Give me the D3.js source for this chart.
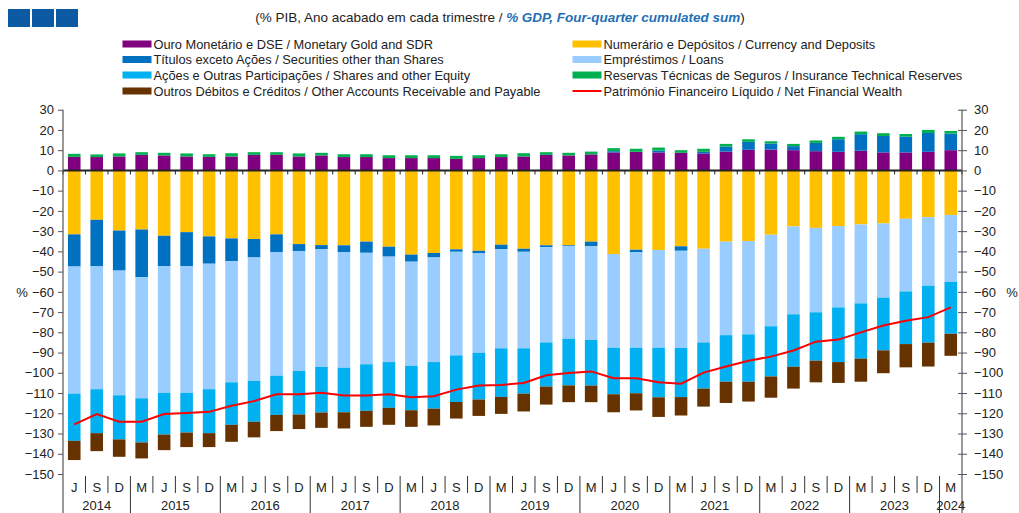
<!DOCTYPE html>
<html>
<head>
<meta charset="utf-8">
<script src="https://cdn.jsdelivr.net/npm/d3@7"></script>
<style>
body { margin: 0; background: #fff; }
text { font-family: "Liberation Sans", Arial, sans-serif; }
</style>
</head>
<body>
<div id="canvas"></div>
<script>
// quarters, June 2014 .. March 2024
let quarters = ["J","S","D",
  "M","J","S","D", "M","J","S","D", "M","J","S","D", "M","J","S","D",
  "M","J","S","D", "M","J","S","D", "M","J","S","D", "M","J","S","D",
  "M","J","S","D", "M"];
let years = ["2014","2015","2016","2017","2018","2019","2020","2021","2022","2023","2024"];
let yearCounts = [3,4,4,4,4,4,4,4,4,4,1];

let gold = [6.7,6.6,6.9,7.7,7.4,6.9,6.7,6.9,7.7,7.7,6.9,7.4,6.6,6.6,6.1,6.1,6.1,5.7,6.1,6.6,
  6.9,7.7,7.4,7.9,8.9,9.2,8.9,8.7,8.4,9.3,10.2,10.3,10.0,9.5,9.2,9.7,8.9,8.9,9.2,10.0];
let currency = [-31.6,-24.4,-29.7,-29.2,-32.3,-30.5,-32.6,-33.6,-33.9,-31.6,-36.4,-36.9,-37.0,-35.2,-37.7,-41.6,-40.8,-39.0,-39.7,-36.7,
  -38.7,-37.0,-37.0,-35.2,-41.3,-39.2,-39.3,-37.5,-38.7,-35.2,-34.9,-31.8,-27.7,-28.4,-27.5,-26.7,-26.2,-23.9,-23.1,-22.0];
let securities = [-15.9,-23.0,-19.8,-23.6,-15.1,-16.9,-13.5,-11.2,-9.1,-8.7,-3.4,-2.0,-3.3,-5.5,-4.9,-3.5,-2.2,-1.2,-1.3,-2.2,
  -1.5,-0.9,-0.4,-2.3,0.6,-1.3,0.9,-2.2,0.8,2.5,3.9,3.0,2.0,4.1,6.2,8.2,8.1,7.8,9.3,8.2];
let loans = [-62.8,-60.7,-61.6,-59.8,-62.5,-62.5,-62.0,-59.9,-61.0,-61.1,-59.3,-58.2,-57.2,-55.1,-52.1,-51.5,-51.7,-51.2,-49.1,-49.0,
  -47.7,-47.1,-45.8,-46.3,-46.3,-47.1,-48.3,-48.0,-46.3,-46.2,-46.1,-45.2,-43.4,-41.7,-40.2,-39.0,-36.7,-35.9,-33.9,-33.1];
let shares = [-23.3,-21.7,-21.8,-21.8,-20.6,-19.6,-21.7,-21.0,-20.2,-19.4,-21.5,-22.5,-22.0,-23.0,-22.6,-21.9,-23.0,-23.0,-23.1,-24.0,
  -22.4,-21.8,-23.0,-22.5,-23.0,-22.5,-24.5,-24.3,-22.8,-23.0,-23.4,-24.8,-25.9,-23.9,-27.0,-27.3,-26.0,-26.0,-28.1,-25.6];
let insurance = [1.5,1.3,1.5,1.3,1.3,1.5,1.3,1.6,1.3,1.3,1.5,1.3,1.4,1.4,1.4,1.4,1.4,1.5,1.4,1.4,
  1.6,1.3,1.3,1.4,1.5,1.5,1.5,1.3,1.5,1.3,1.3,1.1,1.1,1.2,1.2,1.3,1.4,1.3,1.5,1.3];
let other = [-9.5,-8.9,-8.6,-7.9,-7.7,-7.2,-6.9,-8.4,-7.7,-8.0,-7.2,-7.6,-8.0,-7.9,-8.4,-8.2,-8.3,-8.2,-8.1,-8.4,
  -8.8,-8.9,-8.3,-8.2,-8.9,-8.5,-9.7,-9.1,-8.9,-10.5,-9.8,-10.5,-10.8,-10.7,-10.3,-11.4,-11.3,-11.5,-11.8,-10.9];
let netWealth = [-125.5,-120.4,-124.2,-124.2,-120.4,-119.8,-119.3,-116.3,-114.0,-110.6,-110.6,-109.9,-111.2,-111.2,-110.6,-112.1,-111.6,-108.3,-106.3,-106.0,
  -105.0,-101.2,-100.1,-99.3,-102.7,-102.7,-104.7,-105.4,-99.9,-96.9,-94.0,-92.0,-89.0,-84.6,-83.6,-80.0,-76.6,-74.3,-72.5,-67.7];

let yTicks = d3.range(-150, 31, 10);

let series = [
  {key: "gold", values: gold, color: "#800080", label: "Ouro Monetário e DSE / Monetary Gold and SDR"},
  {key: "currency", values: currency, color: "#FFC000", label: "Numerário e Depósitos / Currency and Deposits"},
  {key: "securities", values: securities, color: "#0070C0", label: "Títulos exceto Ações / Securities other than Shares"},
  {key: "loans", values: loans, color: "#99CCFF", label: "Empréstimos / Loans"},
  {key: "shares", values: shares, color: "#00B0F0", label: "Ações e Outras Participações / Shares and other Equity"},
  {key: "insurance", values: insurance, color: "#00B050", label: "Reservas Técnicas de Seguros / Insurance Technical Reserves"},
  {key: "other", values: other, color: "#663300", label: "Outros Débitos e Créditos / Other Accounts Receivable and Payable"}
];

let rows = quarters.map((q, i) => {
  let r = {i: i};
  series.forEach(s => r[s.key] = s.values[i]);
  return r;
});

let width = 1019;
let height = 513;
let plotLeft = 63, plotRight = 962, plotTop = 109.7, plotBottom = 474;

var svg = d3.select("#canvas").append("svg")
    .attr("width", width)
    .attr("height", height);

var xScale = d3.scaleBand()
    .domain(d3.range(quarters.length))
    .range([plotLeft, plotRight])
    .paddingInner(0.44)
    .paddingOuter(0.22);

var yScale = d3.scaleLinear()
    .domain([-150, 30])
    .range([plotBottom, plotTop]);

var stack = d3.stack()
    .keys(series.map(s => s.key))
    .offset(d3.stackOffsetDiverging);

var layers = stack(rows);

svg.append("g").selectAll("g")
    .data(layers)
    .join("g")
    .attr("fill", (d, k) => series[k].color)
    .selectAll("rect")
    .data(d => d)
    .join("rect")
    .attr("x", d => xScale(d.data.i))
    .attr("y", d => yScale(Math.max(d[0], d[1])))
    .attr("width", xScale.bandwidth())
    .attr("height", d => Math.abs(yScale(d[0]) - yScale(d[1])));

// net financial wealth line
var line = d3.line()
    .x((d, i) => xScale(i) + xScale.bandwidth() / 2)
    .y(d => yScale(d));

svg.append("path")
    .datum(netWealth)
    .attr("d", line)
    .attr("fill", "none")
    .attr("stroke", "#FF0000")
    .attr("stroke-width", 2);

// zero line with small ticks between bars
svg.append("line")
    .attr("x1", plotLeft).attr("x2", plotRight)
    .attr("y1", yScale(0)).attr("y2", yScale(0))
    .attr("stroke", "#222").attr("stroke-width", 2);

let step = xScale.step();
let bounds = d3.range(quarters.length + 1).map(i => plotLeft + i * step);
svg.append("g").selectAll("line")
    .data(bounds)
    .join("line")
    .attr("x1", d => d).attr("x2", d => d)
    .attr("y1", yScale(0)).attr("y2", yScale(0) + 4)
    .attr("stroke", "#222").attr("stroke-width", 1);

// y axes
var leftAxis = d3.axisLeft(yScale).tickValues(yTicks).tickSize(5).tickPadding(4);
var rightAxis = d3.axisRight(yScale).tickValues(yTicks).tickSize(5).tickPadding(7);

let gl = svg.append("g").attr("transform", `translate(${plotLeft},0)`).call(leftAxis);
let gr = svg.append("g").attr("transform", `translate(${plotRight},0)`).call(rightAxis);
[gl, gr].forEach(g => {
  g.select(".domain").remove();
  g.selectAll(".tick line").attr("stroke", "#555");
  g.selectAll(".tick text").attr("font-size", 13).attr("fill", "#222")
    .attr("font-family", "Liberation Sans, Arial, sans-serif");
});
gr.selectAll(".tick line").attr("x1", -4);

[plotLeft, plotRight].forEach(x => {
  svg.append("line")
    .attr("x1", x).attr("x2", x)
    .attr("y1", plotTop).attr("y2", height)
    .attr("stroke", "#555").attr("stroke-width", 1.2);
});

svg.append("text").attr("x", 22).attr("y", yScale(-60) + 5)
    .attr("font-size", 13).attr("fill", "#222").attr("text-anchor", "middle").text("%");
svg.append("text").attr("x", 1012).attr("y", yScale(-60) + 5)
    .attr("font-size", 13).attr("fill", "#222").attr("text-anchor", "middle").text("%");

// category axis at the bottom
let yearStart = [];
let acc = 0;
yearCounts.forEach(c => { yearStart.push(acc); acc += c; });

svg.append("g").selectAll("line")
    .data(bounds.slice(1, -1).map((b, i) => ({x: b, i: i + 1})))
    .join("line")
    .attr("x1", d => d.x).attr("x2", d => d.x)
    .attr("y1", plotBottom + 2)
    .attr("y2", d => yearStart.includes(d.i) ? height : plotBottom + 19)
    .attr("stroke", "#333").attr("stroke-width", 1);

svg.append("g").selectAll("text")
    .data(quarters)
    .join("text")
    .attr("x", (d, i) => xScale(i) + xScale.bandwidth() / 2)
    .attr("y", plotBottom + 18)
    .attr("text-anchor", "middle")
    .attr("font-size", 13).attr("fill", "#222")
    .text(d => d);

svg.append("g").selectAll("text")
    .data(years)
    .join("text")
    .attr("x", (d, k) => plotLeft + (yearStart[k] + yearCounts[k] / 2) * step)
    .attr("y", plotBottom + 36)
    .attr("text-anchor", "middle")
    .attr("font-size", 13).attr("fill", "#222")
    .text(d => d);

// header
let logo = svg.append("g");
[0, 1, 2].forEach(k => {
  logo.append("rect").attr("x", 8 + k * 24).attr("y", 9).attr("width", 22).attr("height", 18)
    .attr("fill", "#0B5AA2");
});

let sub = svg.append("text").attr("x", 500).attr("y", 22)
    .attr("text-anchor", "middle").attr("font-size", 13).attr("fill", "#222");
sub.append("tspan").text("(% PIB, Ano acabado em cada trimestre / ");
sub.append("tspan").attr("fill", "#1F6FB5").attr("font-style", "italic").attr("font-weight", "bold")
  .text("% GDP, Four-quarter cumulated sum");
sub.append("tspan").text(")");
// fit subtitle to its width in the reference
let subW = sub.node().getComputedTextLength();
sub.attr("font-size", 13 * 490 / subW);

// legend
let legendItems = [
  {s: series[0], col: 0, row: 0},
  {s: series[2], col: 0, row: 1},
  {s: series[4], col: 0, row: 2},
  {s: series[6], col: 0, row: 3},
  {s: series[1], col: 1, row: 0},
  {s: series[3], col: 1, row: 1},
  {s: series[5], col: 1, row: 2}
];
let colX = [122.5, 572.5];
let rowY = [44, 59.5, 75, 91];
let lg = svg.append("g");
legendItems.forEach(it => {
  lg.append("rect").attr("x", colX[it.col]).attr("y", rowY[it.row] - 3.5)
    .attr("width", 29).attr("height", 7).attr("fill", it.s.color);
  lg.append("text").attr("x", colX[it.col] + 31).attr("y", rowY[it.row] + 4.5)
    .attr("font-size", 12.8).attr("fill", "#222").text(it.s.label);
});
lg.append("line").attr("x1", colX[1]).attr("x2", colX[1] + 29)
  .attr("y1", rowY[3]).attr("y2", rowY[3]).attr("stroke", "#FF0000").attr("stroke-width", 2);
lg.append("text").attr("x", colX[1] + 31).attr("y", rowY[3] + 4.5)
  .attr("font-size", 12.8).attr("fill", "#222").text("Património Financeiro Líquido / Net Financial Wealth");
</script>
</body>
</html>
